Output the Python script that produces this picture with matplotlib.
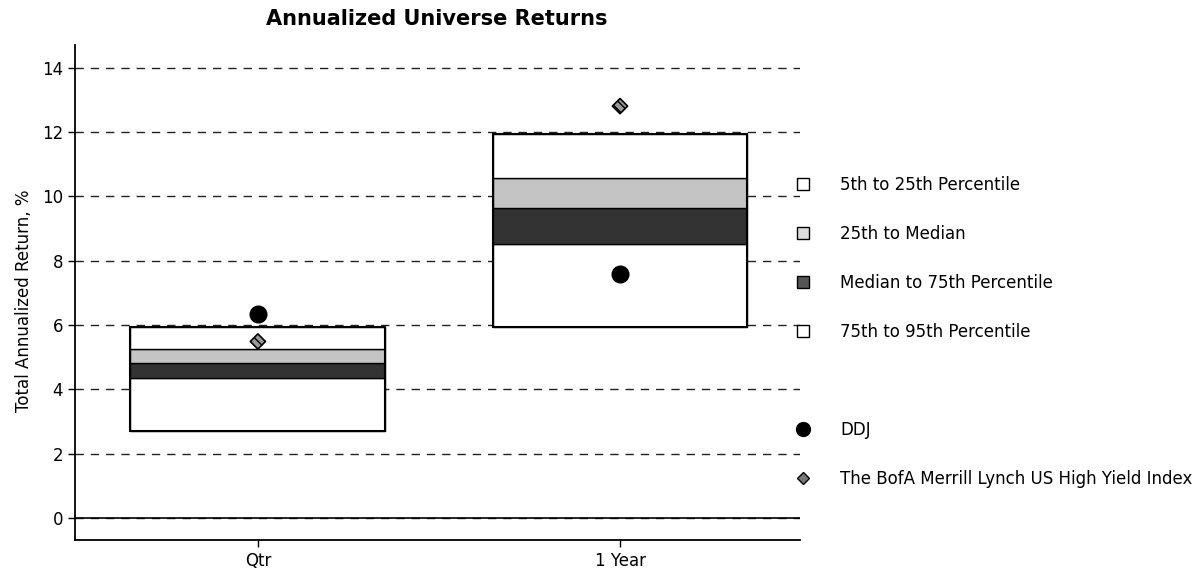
import numpy as np
import matplotlib
matplotlib.use("Agg")
import matplotlib.pyplot as plt
from matplotlib.lines import Line2D

categorias = ["Qtr", "1 Year"]
p5 = np.array([5.93, 11.94])
p25 = np.array([5.25, 10.56])
mediana = np.array([4.82, 9.63])
p75 = np.array([4.34, 8.53])
p95 = np.array([2.72, 5.93])
ddj = [6.36, 7.58]
indice = [5.49, 12.81]
rotulos_legenda = [
    "5th to 25th Percentile",
    "25th to Median",
    "Median to 75th Percentile",
    "75th to 95th Percentile",
    "DDJ",
    "The BofA Merrill Lynch US High Yield Index",
]

W, H = 1198, 575
fig = plt.figure(figsize=(W / 100, H / 100), dpi=100)
ax = fig.add_axes([75 / W, 1 - 540 / H, (800 - 75) / W, (540 - 44.7) / H])

x = np.array([0.0, 1.0])
largura = 0.704
cinza_claro = "#c4c4c4"
cinza_escuro = "#333333"

ax.bar(x, p75 - p95, bottom=p95, width=largura, color="white", edgecolor="black", lw=1, zorder=2)
ax.bar(x, mediana - p75, bottom=p75, width=largura, color=cinza_escuro, edgecolor="black", lw=1, zorder=2)
ax.bar(x, p25 - mediana, bottom=mediana, width=largura, color=cinza_claro, edgecolor="black", lw=1, zorder=2)
ax.bar(x, p5 - p25, bottom=p25, width=largura, color="white", edgecolor="black", lw=1, zorder=2)
ax.bar(x, p5 - p95, bottom=p95, width=largura, fill=False, edgecolor="black", lw=1.5, zorder=3)

ax.plot(x, ddj, ls="", marker="o", markersize=12, color="black", zorder=4)
ax.scatter(x, indice, marker="D", s=60, facecolor="#999999", edgecolor="black",
           hatch="\\\\\\\\", linewidths=1.2, zorder=4)

ax.set_xlim(-0.505, 1.497)
ax.set_ylim(-0.684, 14.72)
ax.set_yticks(range(0, 15, 2))
ax.set_xticks(x)
ax.set_xticklabels(categorias)
ax.tick_params(labelsize=12, length=5, width=1)
ax.yaxis.grid(True, linestyle=(0, (6, 5)), color="#222222", lw=1, zorder=0)
ax.set_axisbelow(True)
ax.axhline(0, color="black", lw=1.2, zorder=1)
for lado in ["top", "right"]:
    ax.spines[lado].set_visible(False)
ax.spines["left"].set_linewidth(1.3)
ax.spines["bottom"].set_linewidth(1.3)

fig.text(437 / W, 1 - 19 / H, "Annualized Universe Returns", ha="center", va="center",
         fontsize=15, weight="bold")
fig.text(24 / W, 1 - 301 / H, "Total Annualized Return, %", ha="center", va="center",
         rotation=90, fontsize=12)

alcas = [
    Line2D([], [], ls="", marker="s", markersize=8, markerfacecolor="white", markeredgecolor="black"),
    Line2D([], [], ls="", marker="s", markersize=8, markerfacecolor="#dddddd", markeredgecolor="black"),
    Line2D([], [], ls="", marker="s", markersize=8, markerfacecolor="#555555", markeredgecolor="black"),
    Line2D([], [], ls="", marker="s", markersize=8, markerfacecolor="white", markeredgecolor="black"),
    Line2D([], [], ls="", marker=""),
    Line2D([], [], ls="", marker="o", markersize=10, color="black"),
    Line2D([], [], ls="", marker="D", markersize=6, markerfacecolor="#777777", markeredgecolor="black"),
]
textos = rotulos_legenda[:4] + [" "] + rotulos_legenda[4:]
fig.legend(alcas, textos, loc="upper left", bbox_to_anchor=(795 / W, 1 - 176 / H),
           frameon=False, handlelength=1.0, handletextpad=1.7,
           labelspacing=1.86, borderpad=0, borderaxespad=0, fontsize=12)

fig.savefig("out.png", dpi=100)
